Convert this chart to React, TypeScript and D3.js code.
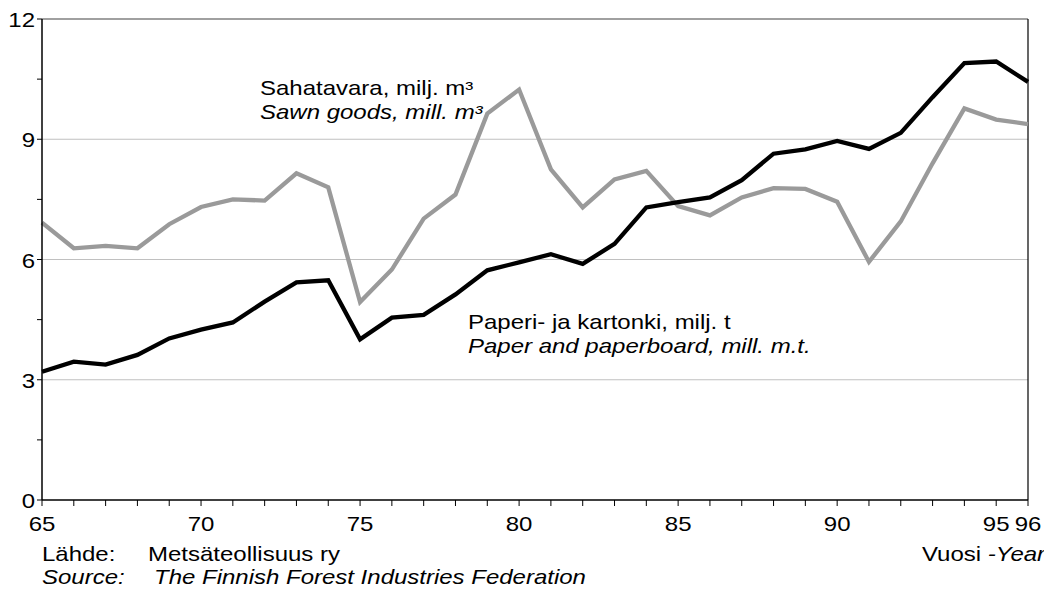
import React from "react";
import * as d3 from "d3";

const years = [65,66,67,68,69,70,71,72,73,74,75,76,77,78,79,80,81,82,83,84,85,86,87,88,89,90,91,92,93,94,95,96];
const paper = [3.2,3.45,3.38,3.62,4.03,4.25,4.43,4.95,5.43,5.48,4.01,4.55,4.62,5.13,5.73,5.93,6.13,5.89,6.39,7.3,7.43,7.55,7.98,8.64,8.75,8.96,8.76,9.16,10.05,10.9,10.94,10.43];
const sawn = [6.92,6.28,6.34,6.28,6.88,7.31,7.5,7.47,8.15,7.8,4.94,5.75,7.02,7.62,9.64,10.24,8.25,7.3,8.0,8.21,7.33,7.1,7.55,7.78,7.76,7.44,5.94,6.95,8.4,9.77,9.49,9.38];
const yTicks = [0,3,6,9,12];
const yMinor = [1.5,4.5,7.5,10.5];
const xLabels = [65,70,75,80,85,90,95,96];

const W = 1044, H = 590;
const L = 42, R = 1028, T = 19, B = 500;
const FS = 20, SX = 1.2;
const FONT = "'Liberation Sans', Arial, Helvetica, sans-serif";

function T2({x, y, anchor = "start", italic = false, children}: any) {
  return (
    <text transform={`translate(${x},${y}) scale(${SX},1)`} textAnchor={anchor}
      fontStyle={italic ? "italic" : "normal"} fontSize={FS} fontFamily={FONT} fill="#000">
      {children}
    </text>
  );
}

export default function App() {
  const x = d3.scaleLinear().domain([65, 96]).range([L, R]);
  const y = d3.scaleLinear().domain([0, 12]).range([B, T]);
  const line = d3.line<number>().x((_, i) => x(years[i])).y(d => y(d));
  return (
    <svg width={W} height={H} style={{position: "absolute", left: 0, top: 0, background: "#fff"}}>
      <rect x={0} y={0} width={W} height={H} fill="#fff" />
      {[3, 6, 9].map(v => (
        <line key={v} x1={L} x2={R} y1={y(v)} y2={y(v)} stroke="#c0c0c0" strokeWidth={1.2} />
      ))}
      <line x1={L} x2={R} y1={y(12)} y2={y(12)} stroke="#808080" strokeWidth={1.5} />
      <line x1={R} x2={R} y1={T} y2={B} stroke="#000" strokeWidth={1.2} />
      <path d={line(sawn) || ""} fill="none" stroke="#9a9a9a" strokeWidth={4.3} strokeLinejoin="miter" />
      <path d={line(paper) || ""} fill="none" stroke="#000" strokeWidth={4.3} strokeLinejoin="miter" />
      <line x1={L} x2={L} y1={T} y2={B} stroke="#000" strokeWidth={1.5} />
      <line x1={L} x2={R} y1={B} y2={B} stroke="#000" strokeWidth={1.5} />
      {yTicks.concat(yMinor).map(v => (
        <line key={"yt" + v} x1={L - 5} x2={L} y1={y(v)} y2={y(v)} stroke="#000" strokeWidth={1} />
      ))}
      {years.map(v => (
        <line key={"xt" + v} x1={x(v)} x2={x(v)} y1={B} y2={B + 6} stroke="#000" strokeWidth={1} />
      ))}
      {yTicks.map(v => (
        <T2 key={"yl" + v} x={35} y={y(v) + 8} anchor="end">{v}</T2>
      ))}
      {xLabels.map(v => (
        <T2 key={"xl" + v} x={x(v)} y={531} anchor="middle">{v}</T2>
      ))}
      <T2 x={260} y={95}>Sahatavara, milj. m³</T2>
      <T2 x={260} y={119} italic>Sawn goods, mill. m³</T2>
      <T2 x={468} y={329}>Paperi- ja kartonki, milj. t</T2>
      <T2 x={468} y={353} italic>Paper and paperboard, mill. m.t.</T2>
      <T2 x={42} y={561}>Lähde:</T2>
      <T2 x={148} y={561}>Metsäteollisuus ry</T2>
      <T2 x={42} y={584} italic>Source:</T2>
      <T2 x={154} y={584} italic>The Finnish Forest Industries Federation</T2>
      <T2 x={922} y={561}>Vuosi <tspan fontStyle="italic">-Year</tspan></T2>
    </svg>
  );
}
